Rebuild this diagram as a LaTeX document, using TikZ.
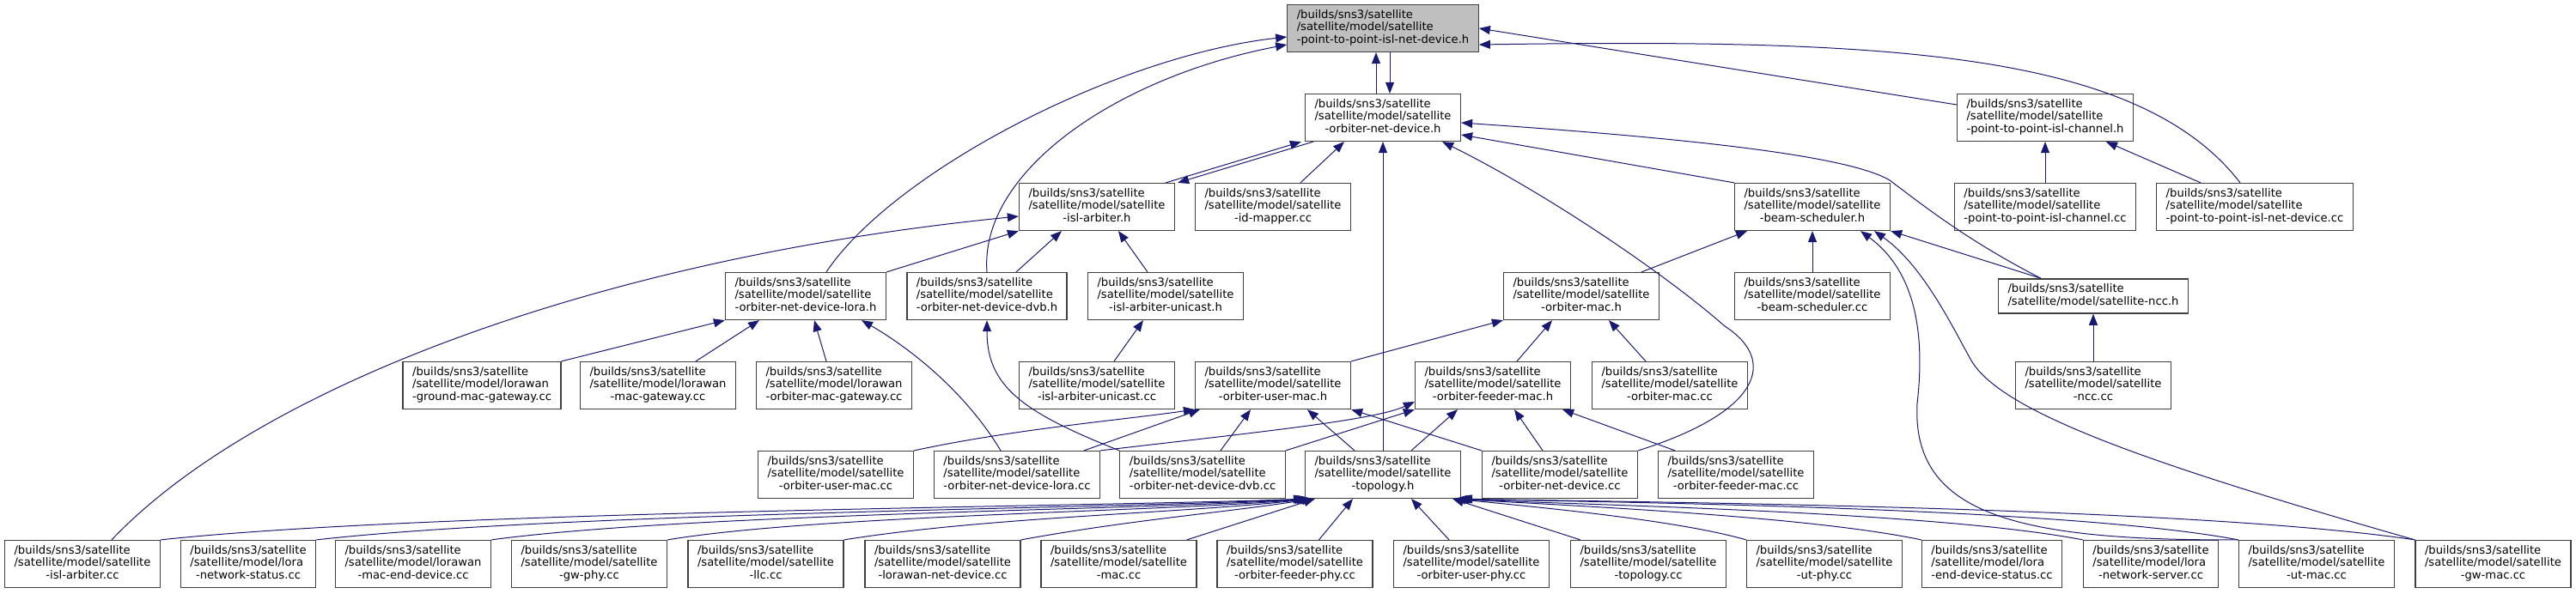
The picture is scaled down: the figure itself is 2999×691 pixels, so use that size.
\documentclass[tikz,border=0pt]{standalone}
\usepackage{fontspec}
\setmainfont{DejaVu Sans}
\usetikzlibrary{arrows.meta}
\definecolor{edgeblue}{RGB}{25,25,112}
\newcommand{\fl}[2]{\begin{tabular}{@{}l@{}}/builds/sns3/satellite\\#1\\\multicolumn{1}{@{}c@{}}{#2}\end{tabular}}
\newcommand{\sat}{/satellite/model/satellite}

\begin{document}
\begin{tikzpicture}[x=0.5pt,y=-0.5pt,
		box/.style={draw=black!75, line width=0.65pt, fill=white, inner xsep=5.5pt, inner ysep=2.7pt, font=\fontsize{6.575pt}{7.35pt}\selectfont},
		mainbox/.style={box, fill=black!25},
		incl/.style={draw=edgeblue, line width=0.5pt, -{Triangle[length=6.5pt,width=5pt]}}]
				\useasboundingbox (0,0) rectangle (2999,691);
				\node[mainbox] (p2pndh) at (1610,33) {\fl{\sat}{-point-to-point-isl-net-device.h}};
				\node[box] (ondh) at (1610,137) {\fl{\sat}{-orbiter-net-device.h}};
				\node[box] (p2pchh) at (2381,137) {\fl{\sat}{-point-to-point-isl-channel.h}};
				\node[box] (islh) at (1277,241) {\fl{\sat}{-isl-arbiter.h}};
				\node[box] (idmapcc) at (1482,241) {\fl{\sat}{-id-mapper.cc}};
				\node[box] (bsh) at (2110,241) {\fl{\sat}{-beam-scheduler.h}};
				\node[box] (p2pchcc) at (2381,241) {\fl{\sat}{-point-to-point-isl-channel.cc}};
				\node[box] (p2pndcc) at (2625,241) {\fl{\sat}{-point-to-point-isl-net-device.cc}};
				\node[box] (lorah) at (938,345) {\fl{\sat}{-orbiter-net-device-lora.h}};
				\node[box] (dvbh) at (1149,345) {\fl{\sat}{-orbiter-net-device-dvb.h}};
				\node[box] (unih) at (1357,345) {\fl{\sat}{-isl-arbiter-unicast.h}};
				\node[box] (orbmach) at (1841,345) {\fl{\sat}{-orbiter-mac.h}};
				\node[box] (bscc) at (2110,345) {\fl{\sat}{-beam-scheduler.cc}};
				\node[box] (ncch) at (2437,345) {\begin{tabular}{@{}l@{}}/builds/sns3/satellite\\/satellite/model/satellite-ncc.h\end{tabular}};
				\node[box] (groundgwcc) at (561,449) {\fl{/satellite/model/lorawan}{-ground-mac-gateway.cc}};
				\node[box] (macgwcc) at (766,449) {\fl{/satellite/model/lorawan}{-mac-gateway.cc}};
				\node[box] (orbgwcc) at (971,449) {\fl{/satellite/model/lorawan}{-orbiter-mac-gateway.cc}};
				\node[box] (unicc) at (1277,449) {\fl{\sat}{-isl-arbiter-unicast.cc}};
				\node[box] (usermach) at (1482,449) {\fl{\sat}{-orbiter-user-mac.h}};
				\node[box] (feedermach) at (1738,449) {\fl{\sat}{-orbiter-feeder-mac.h}};
				\node[box] (orbmaccc) at (1944,449) {\fl{\sat}{-orbiter-mac.cc}};
				\node[box] (ncccc) at (2437,449) {\fl{\sat}{-ncc.cc}};
				\node[box] (usermaccc) at (973,553) {\fl{\sat}{-orbiter-user-mac.cc}};
				\node[box] (loracc) at (1184,553) {\fl{\sat}{-orbiter-net-device-lora.cc}};
				\node[box] (dvbcc) at (1400,553) {\fl{\sat}{-orbiter-net-device-dvb.cc}};
				\node[box] (topoh) at (1610,553) {\fl{\sat}{-topology.h}};
				\node[box] (ondcc) at (1816,553) {\fl{\sat}{-orbiter-net-device.cc}};
				\node[box] (feedermaccc) at (2021,553) {\fl{\sat}{-orbiter-feeder-mac.cc}};
				\node[box] (islcc) at (96,657) {\fl{\sat}{-isl-arbiter.cc}};
				\node[box] (loranscc) at (289,657) {\fl{/satellite/model/lora}{-network-status.cc}};
				\node[box] (lmedcc) at (481,657) {\fl{/satellite/model/lorawan}{-mac-end-device.cc}};
				\node[box] (gwphycc) at (686,657) {\fl{\sat}{-gw-phy.cc}};
				\node[box] (llccc) at (891.5,657) {\fl{\sat}{-llc.cc}};
				\node[box] (lndcc) at (1097.5,657) {\fl{\sat}{-lorawan-net-device.cc}};
				\node[box] (maccc) at (1302.5,657) {\fl{\sat}{-mac.cc}};
				\node[box] (ofphycc) at (1507.5,657) {\fl{\sat}{-orbiter-feeder-phy.cc}};
				\node[box] (ouphycc) at (1713,657) {\fl{\sat}{-orbiter-user-phy.cc}};
				\node[box] (topocc) at (1919,657) {\fl{\sat}{-topology.cc}};
				\node[box] (utphycc) at (2124,657) {\fl{\sat}{-ut-phy.cc}};
				\node[box] (ledscc) at (2319,657) {\fl{/satellite/model/lora}{-end-device-status.cc}};
				\node[box] (lnsrvcc) at (2504,657) {\fl{/satellite/model/lora}{-network-server.cc}};
				\node[box] (utmaccc) at (2697,657) {\fl{\sat}{-ut-mac.cc}};
				\node[box] (gwmaccc) at (2902.5,657) {\fl{\sat}{-gw-mac.cc}};
				\draw[incl] ([xshift=-4pt]ondh.north) -- ([xshift=-4pt]p2pndh.south);
				\draw[incl] ([xshift=4pt]p2pndh.south) -- ([xshift=4pt]ondh.north);
				\draw[incl] ([xshift=12pt]lorah.north) .. controls (1040,200) and (1300,65) .. ([yshift=-5pt]p2pndh.west);
				\draw[incl] (dvbh.north) .. controls (1140,200) and (1300,90) .. ([yshift=-9.5pt]p2pndh.west);
				\draw[incl] ([yshift=7.5pt]p2pchh.west) -- (p2pndh.east);
				\draw[incl] ([xshift=-8.5pt]p2pndcc.north) .. controls (2490,60) and (2200,45) .. ([yshift=-9.5pt]p2pndh.east);
				\draw[incl] ([xshift=-5.5pt]islh.north east) -- ([xshift=-2pt]ondh.south west);
				\draw[incl] ([xshift=5pt]ondh.south west) -- ([xshift=1.5pt]islh.north east);
				\draw[incl] ([xshift=16pt]idmapcc.north) -- ([xshift=-22.5pt]ondh.south);
				\draw[incl] (topoh.north) -- (ondh.south);
				\draw[incl] (ondcc.north east) .. controls (2050,480) and (2070,420) .. (2008,380) .. controls (1940,320) and (1800,225) .. ([xshift=-11pt]ondh.south east);
				\draw[incl] (bsh.north west) -- ([yshift=-10pt]ondh.east);
				\draw[incl] ([xshift=-30.5pt]ncch.north) .. controls (2290,280) and (2240,240) .. (2200,210) .. controls (2150,180) and (1950,160) .. ([yshift=-3pt]ondh.east);
				\draw[incl] ([xshift=17pt]islcc.north) .. controls (300,450) and (700,300) .. ([yshift=-5.5pt]islh.west);
				\draw[incl] (lorah.north east) -- (islh.south west);
				\draw[incl] ([xshift=17pt]dvbh.north) -- ([xshift=-20.5pt]islh.south);
				\draw[incl] ([xshift=-10.5pt]unih.north) -- ([xshift=12.5pt]islh.south);
				\draw[incl] (groundgwcc.north east) -- (lorah.south west);
				\draw[incl] ([xshift=22pt]macgwcc.north) -- ([xshift=-27pt]lorah.south);
				\draw[incl] ([xshift=-4.5pt]orbgwcc.north) -- ([xshift=5pt]lorah.south);
				\draw[incl] ([xshift=-9.5pt]loracc.north) .. controls (1120,450) and (1050,400) .. ([xshift=32.5pt]lorah.south);
				\draw[incl] (dvbcc.north west) .. controls (1190,480) and (1149,450) .. (dvbh.south);
				\draw[incl] ([xshift=10pt]unicc.north) -- ([xshift=-13pt]unih.south);
				\draw[incl] ([xshift=35pt]orbmach.north) -- ([xshift=-38pt]bsh.south);
				\draw[incl] (bscc.north) -- (bsh.south);
				\draw[incl] (utmaccc.north west) .. controls (2350,630) and (2225,600) .. (2232,470) .. controls (2240,400) and (2235,320) .. ([xshift=28pt]bsh.south);
				\draw[incl] (gwmaccc.north west) .. controls (2500,540) and (2330,480) .. (2295,420) .. controls (2275,385) and (2240,310) .. ([xshift=36pt]bsh.south);
				\draw[incl] ([xshift=-30.5pt]ncch.north) -- (bsh.south east);
				\draw[incl] (ncccc.north) -- (ncch.south);
				\draw[incl] (p2pchcc.north) -- (p2pchh.south);
				\draw[incl] ([xshift=-31.5pt]p2pndcc.north) -- ([xshift=35.5pt]p2pchh.south);
				\draw[incl] (usermach.north east) -- (orbmach.south west);
				\draw[incl] ([xshift=14pt]feedermach.north) -- ([xshift=-17pt]orbmach.south);
				\draw[incl] ([xshift=-14pt]orbmaccc.north) -- ([xshift=16pt]orbmach.south);
				\draw[incl] (usermaccc.north east) .. controls (1180,500) and (1300,490) .. (usermach.south west);
				\draw[incl] ([xshift=39pt]loracc.north) -- ([xshift=3pt]usermach.south west);
				\draw[incl] ([xshift=10.5pt]dvbcc.north) -- ([xshift=-13pt]usermach.south);
				\draw[incl] ([xshift=-16.5pt]topoh.north) -- ([xshift=20pt]usermach.south);
				\draw[incl] (ondcc.north west) -- (usermach.south east);
				\draw[incl] (loracc.north east) .. controls (1450,505) and (1600,490) .. ([yshift=-9.5pt]feedermach.west);
				\draw[incl] (dvbcc.north east) -- (feedermach.south west);
				\draw[incl] ([xshift=16.5pt]topoh.north) -- ([xshift=-20.5pt]feedermach.south);
				\draw[incl] ([xshift=-10pt]ondcc.north) -- ([xshift=12.5pt]feedermach.south);
				\draw[incl] ([xshift=-35.5pt]feedermaccc.north) -- ([xshift=-5pt]feedermach.south east);
				\draw[incl] (islcc.north east) .. controls (500,595) and (1300,590) .. (topoh.south west);
				\draw[incl] (loranscc.north east) .. controls (650,597) and (1320,592) .. ([xshift=1pt]topoh.south west);
				\draw[incl] (lmedcc.north east) .. controls (800,598) and (1340,594) .. ([xshift=2pt]topoh.south west);
				\draw[incl] (gwphycc.north east) .. controls (950,600) and (1360,596) .. ([xshift=3pt]topoh.south west);
				\draw[incl] (llccc.north east) .. controls (1150,602) and (1380,598) .. ([xshift=4pt]topoh.south west);
				\draw[incl] (lndcc.north east) .. controls (1320,605) and (1420,598) .. ([xshift=5pt]topoh.south west);
				\draw[incl] ([xshift=-6pt]maccc.north east) -- ([xshift=6pt]topoh.south west);
				\draw[incl] ([xshift=14pt]ofphycc.north) -- ([xshift=-17.5pt]topoh.south);
				\draw[incl] ([xshift=-13pt]ouphycc.north) -- ([xshift=16.5pt]topoh.south);
				\draw[incl] ([xshift=6pt]topocc.north west) -- ([xshift=-5pt]topoh.south east);
				\draw[incl] (utphycc.north west) .. controls (1950,605) and (1780,590) .. ([xshift=-4pt]topoh.south east);
				\draw[incl] (ledscc.north west) .. controls (2100,600) and (1800,588) .. ([xshift=-3pt]topoh.south east);
				\draw[incl] (lnsrvcc.north west) .. controls (2250,595) and (1820,588) .. ([xshift=-2pt]topoh.south east);
				\draw[incl] (utmaccc.north west) .. controls (2400,590) and (1850,585) .. ([xshift=-1pt]topoh.south east);
				\draw[incl] (gwmaccc.north west) .. controls (2550,590) and (1900,585) .. (topoh.south east);
			\end{tikzpicture}
\end{document}
